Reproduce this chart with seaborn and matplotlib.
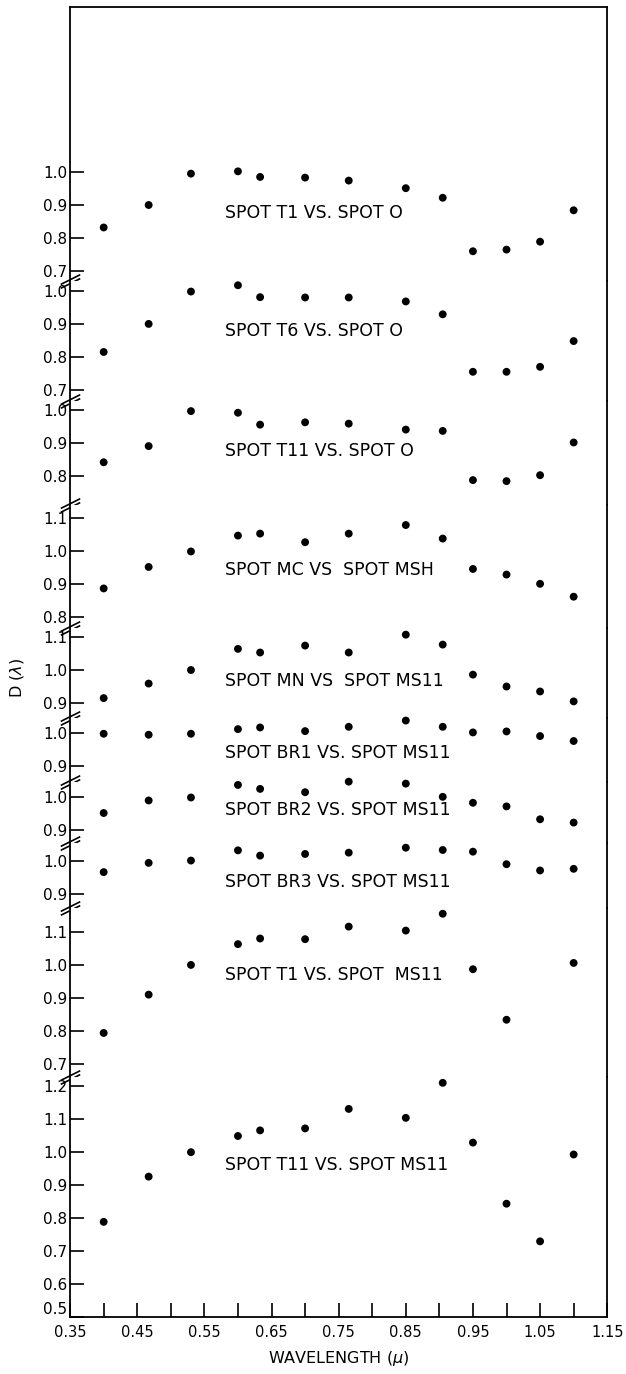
import numpy as np
import pandas as pd
import matplotlib.pyplot as plt
import seaborn as sns
from matplotlib.path import Path

# wavelengths (microns) of the filter measurements
wavelength = [0.40, 0.467, 0.53, 0.60, 0.633, 0.70, 0.765, 0.85, 0.905, 0.95, 1.00, 1.05, 1.10]

# D(lambda) ratios, one list per comparison
t1_vs_o = [0.832, 0.900, 0.995, 1.002, 0.985, 0.983, 0.974, 0.951, 0.922, 0.760, 0.765, 0.789, 0.884]
t6_vs_o = [0.815, 0.900, 0.998, 1.017, 0.981, 0.980, 0.980, 0.968, 0.929, 0.755, 0.755, 0.770, 0.848]
t11_vs_o = [0.841, 0.890, 0.996, 0.991, 0.955, 0.962, 0.958, 0.940, 0.936, 0.787, 0.784, 0.802, 0.901]
mc_vs_msh = [0.886, 0.951, 0.998, 1.046, 1.052, 1.026, 1.052, 1.078, 1.037, 0.945, 0.928, 0.900, 0.861]
mn_vs_ms11 = [0.914, 0.958, 0.999, 1.063, 1.052, 1.073, 1.052, 1.106, 1.076, 0.985, 0.949, 0.934, 0.904]
br1_vs_ms11 = [0.998, 0.995, 0.998, 1.012, 1.017, 1.006, 1.019, 1.038, 1.019, 1.002, 1.005, 0.991, 0.976]
br2_vs_ms11 = [0.951, 0.989, 0.998, 1.036, 1.024, 1.014, 1.046, 1.040, 1.000, 0.982, 0.971, 0.932, 0.922]
br3_vs_ms11 = [0.965, 0.993, 1.000, 1.031, 1.015, 1.020, 1.024, 1.039, 1.032, 1.027, 0.989, 0.970, 0.975]
t1_vs_ms11 = [0.793, 0.909, 0.999, 1.062, 1.079, 1.077, 1.115, 1.103, 1.154, 0.986, 0.833, np.nan, 1.005]
t11_vs_ms11 = [0.788, 0.925, 0.999, 1.048, 1.065, 1.071, 1.130, 1.103, 1.209, 1.028, 0.843, 0.729, 0.992]

labels = ["SPOT T1 VS. SPOT O", "SPOT T6 VS. SPOT O", "SPOT T11 VS. SPOT O",
          "SPOT MC VS  SPOT MSH", "SPOT MN VS  SPOT MS11", "SPOT BR1 VS. SPOT MS11",
          "SPOT BR2 VS. SPOT MS11", "SPOT BR3 VS. SPOT MS11", "SPOT T1 VS. SPOT  MS11",
          "SPOT T11 VS. SPOT MS11"]
series = [t1_vs_o, t6_vs_o, t11_vs_o, mc_vs_msh, mn_vs_ms11,
          br1_vs_ms11, br2_vs_ms11, br3_vs_ms11, t1_vs_ms11, t11_vs_ms11]

# axis layout of each stacked (broken) panel
ylims = [(0.671, 1.50), (0.667, 1.031), (0.713, 1.027), (0.766, 1.140), (0.854, 1.126),
         (0.851, 1.046), (0.861, 1.044), (0.856, 1.054), (0.659, 1.171), (0.50, 1.226)]
yticks = [[0.7, 0.8, 0.9, 1.0], [0.7, 0.8, 0.9, 1.0], [0.8, 0.9, 1.0], [0.8, 0.9, 1.0, 1.1],
          [0.9, 1.0, 1.1], [0.9, 1.0], [0.9, 1.0], [0.9, 1.0], [0.7, 0.8, 0.9, 1.0, 1.1],
          [0.5, 0.6, 0.7, 0.8, 0.9, 1.0, 1.1, 1.2]]
label_y = [0.876, 0.879, 0.876, 0.942, 0.965, 0.940, 0.961, 0.936, 0.968, 0.961]

sns.set_style("white")
plt.rcParams['font.family'] = ['DejaVu Sans']
plt.rcParams['text.color'] = 'black'
plt.rcParams['axes.labelcolor'] = 'black'

fig, axes = plt.subplots(len(series), 1, sharex=True, figsize=(6.26, 13.74), dpi=100,
                         gridspec_kw={'height_ratios': [hi - lo for lo, hi in ylims]})
fig.subplots_adjust(left=0.112, right=0.970, top=0.995, bottom=0.0415, hspace=0)

brk = Path([(-1, -0.7), (1, 0.3), (-1, -0.3), (1, 0.7)],
           [Path.MOVETO, Path.LINETO, Path.MOVETO, Path.LINETO])

n = len(series)
for i, ax in enumerate(axes):
    df = pd.DataFrame({'wavelength': wavelength, 'D': series[i]})
    sns.scatterplot(data=df, x='wavelength', y='D', ax=ax, color='black', s=32,
                    edgecolor='none', legend=False, clip_on=False)
    ax.set_ylim(*ylims[i])
    ax.set_yticks(yticks[i])
    ax.set_yticklabels([f"{t:.1f}" for t in yticks[i]])
    ax.tick_params(axis='y', left=True, right=False, direction='in', length=10,
                   width=1.2, pad=2, labelsize=11, colors='black')
    ax.set_ylabel('')
    ax.set_xlabel('')
    for side in ['left', 'right', 'top', 'bottom']:
        ax.spines[side].set_color('black')
        ax.spines[side].set_linewidth(1.3)
    ax.spines['top'].set_visible(i == 0)
    ax.spines['bottom'].set_visible(i == n - 1)
    ax.text(0.58, label_y[i], labels[i], fontsize=12.5, ha='left', va='center',
            color='black')
    if i < n - 1:
        ax.tick_params(axis='x', which='both', bottom=False, labelbottom=False)
        ax.plot([0], [0], marker=brk, markersize=14, mew=1.2, color='black',
                linestyle='none', transform=ax.transAxes, clip_on=False)

ax = axes[-1]
ax.set_xlim(0.35, 1.15)
major = np.round(np.arange(0.35, 1.151, 0.1), 2)
ax.set_xticks(major)
ax.set_xticklabels([f"{t:.2f}" for t in major])
ax.set_xticks(np.round(np.arange(0.40, 1.11, 0.1), 2), minor=True)
ax.tick_params(axis='x', which='both', bottom=True, direction='in', length=10,
               width=1.2, pad=6, labelsize=10.5, colors='black')
# lift the lowest y label a touch so it clears the 0.35 label
ax.get_yticklabels()[0].set_verticalalignment('bottom')
ax.set_xlabel(r"WAVELENGTH ($\mu$)", fontsize=11.5, labelpad=6)

fig.text(17 / 626, 1 - 678 / 1374, r"D ($\lambda$)", rotation=90, fontsize=11.5,
         ha='center', va='center')

fig.savefig("out.png", dpi=100)
